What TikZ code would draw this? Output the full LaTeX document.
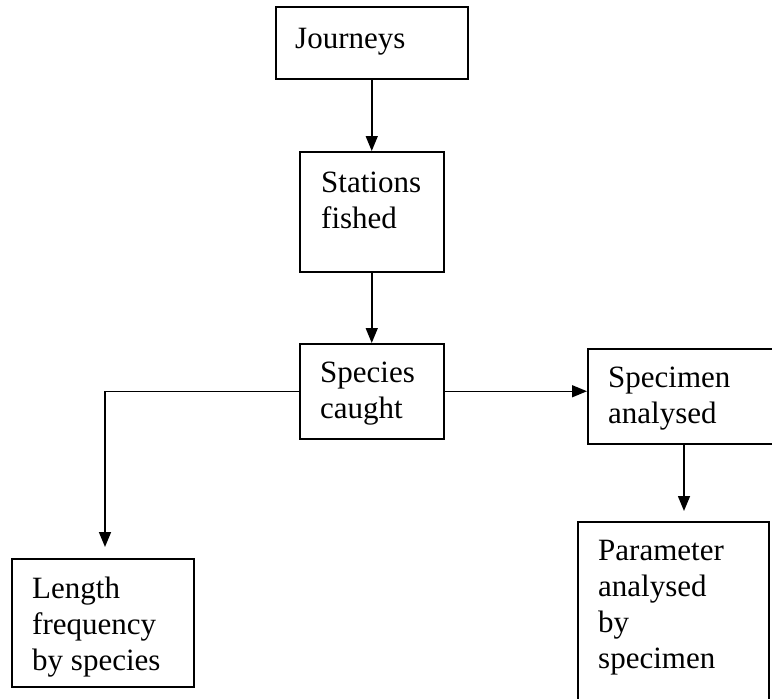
\documentclass[tikz,border=0pt]{standalone}
\usepackage{fontspec}
\setmainfont{Liberation Serif}
\usetikzlibrary{arrows.meta}
\tikzset{
  box/.style={draw, line width=1.5pt, rectangle, anchor=north west, inner sep=0pt},
  lbl/.style={anchor=north west, inner sep=0pt, align=left, font=\fontsize{31}{36}\selectfont},
  arr/.style={line width=1.5pt, -{Triangle[width=12pt,length=15pt]}}
}
\begin{document}
\begin{tikzpicture}[x=1pt,y=-1pt]
\useasboundingbox (0,0) rectangle (772,699);
\clip (0,0) rectangle (772,699);
% boxes
\node[box, minimum width=192pt, minimum height=72pt] (j) at (275,6) {};
\node[box, minimum width=144pt, minimum height=120pt] (s) at (299,151) {};
\node[box, minimum width=144pt, minimum height=95pt] (sp) at (299,343) {};
\node[box, minimum width=200pt, minimum height=95pt] (spec) at (587,348) {};
\node[box, minimum width=191pt, minimum height=200pt] (par) at (577,521) {};
\node[box, minimum width=182pt, minimum height=128pt] (len) at (11,558) {};
% texts (top = baseline - 0.7*36)
\node[lbl] (tj) at (295,22.8) {\strut Journeys};
\node[lbl] (ts) at (321,166.8) {\strut Stations\\fished};
\node[lbl] (tsp) at (320,356.8) {\strut Species\\caught};
\node[lbl] (tspec) at (608,361.8) {\strut Specimen\\analysed};
\node[lbl] (tpar) at (598,534.8) {\strut Parameter\\analysed\\by\\specimen};
\node[lbl] (tlen) at (32,572.8) {\strut Length\\frequency\\by species};
% connector end points
\coordinate (lenin) at (105,547);
\coordinate (parin) at (684,511);
% connectors
\draw[arr] (j.south) -- (s.north);
\draw[arr] (s.south) -- (sp.north);
\draw[arr] (sp.east) -- (sp.east -| spec.west);
\draw[arr] (sp.west) -| (lenin);
\draw[arr] (parin |- spec.south) -- (parin);
\end{tikzpicture}
\end{document}
